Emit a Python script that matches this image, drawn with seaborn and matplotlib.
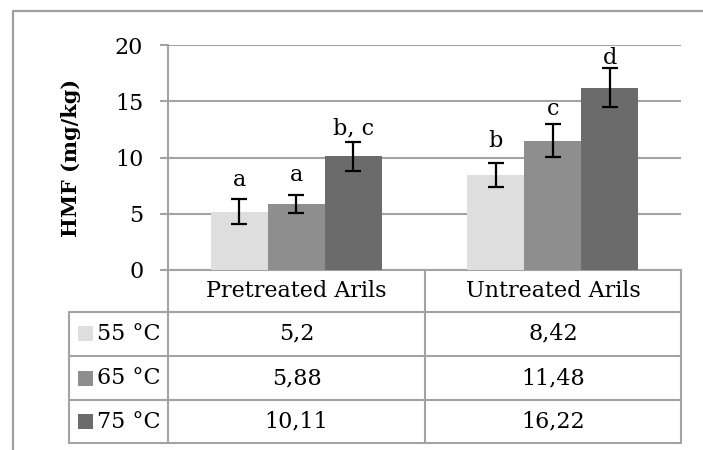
import numpy as np
import pandas as pd
import matplotlib
matplotlib.use("Agg")
import matplotlib.pyplot as plt
from matplotlib.patches import Rectangle
import seaborn as sns

# data
groups = ["Pretreated Arils", "Untreated Arils"]
temps = ["55 °C", "65 °C", "75 °C"]
hmf_pre = [5.2, 5.88, 10.11]
hmf_unt = [8.42, 11.48, 16.22]
err_pre = [1.1, 0.8, 1.3]
err_unt = [1.08, 1.46, 1.7]
letters_pre = ["a", "a", "b, c"]
letters_unt = ["b", "c", "d"]
letter_y_pre = [7.5, 7.9, 12.05]
letter_y_unt = [10.95, 13.8, 18.35]

colors = ["#DEDEDE", "#8E8E8E", "#6B6B6B"]
line_grey = "#A3A3A3"

rows = []
for g, vals, errs, lets, ly in [(groups[0], hmf_pre, err_pre, letters_pre, letter_y_pre),
                                (groups[1], hmf_unt, err_unt, letters_unt, letter_y_unt)]:
    for t, v, e, l, y in zip(temps, vals, errs, lets, ly):
        rows.append({"group": g, "temp": t, "hmf": v, "err": e, "letter": l, "ly": y})
df = pd.DataFrame(rows)

sns.set_style("white")
plt.rcParams["font.family"] = ["DejaVu Serif"]
plt.rcParams["text.color"] = "black"
plt.rcParams["axes.labelcolor"] = "black"
FS = 16

W, H = 703, 450
fig = plt.figure(figsize=(W / 100, H / 100), dpi=100)

# plot area in pixel coords: x 168..681, y 45..270
x0, x1, y0, y1 = 168, 681, 45, 270
ax = fig.add_axes([x0 / W, 1 - y1 / H, (x1 - x0) / W, (y1 - y0) / H])

sns.barplot(data=df, x="group", y="hmf", hue="temp", hue_order=temps, order=groups,
            palette=colors, width=0.667, errorbar=None, legend=False,
            linewidth=0, ax=ax, zorder=3)

# error bars and letters on top of each bar
bar_conts = list(ax.containers)
for i, cont in enumerate(bar_conts):
    for j, bar in enumerate(cont):
        rec = df[(df["temp"] == temps[i]) & (df["group"] == groups[j])].iloc[0]
        cx = bar.get_x() + bar.get_width() / 2
        ax.errorbar(cx, bar.get_height(), yerr=rec["err"], fmt="none", ecolor="black",
                    elinewidth=1.6, capsize=5.8, capthick=1.6, zorder=4)
        ax.text(cx, rec["ly"], rec["letter"], ha="center", va="baseline", fontsize=FS)

ax.set_xlim(-0.5, 1.5)
ax.set_ylim(0, 20)
ax.set_yticks([0, 5, 10, 15, 20])
ax.set_xticks([])
ax.set_xlabel("")
ax.yaxis.grid(True, color=line_grey, lw=1.5, zorder=0)
ax.set_axisbelow(True)
for s in ["top", "right"]:
    ax.spines[s].set_visible(False)
for s in ["left", "bottom"]:
    ax.spines[s].set_color(line_grey)
    ax.spines[s].set_linewidth(1.5)
ax.tick_params(axis="y", length=5.8, width=1.5, color=line_grey, labelcolor="black",
               pad=12, labelsize=FS, left=True)
ax.set_ylabel("HMF (mg/kg)", fontsize=15, fontweight="bold", va="center")
ax.yaxis.set_label_coords((71 - x0) / (x1 - x0), 0.5)

# overlay in pixel coordinates for the data table and outer border
ov = fig.add_axes([0, 0, 1, 1], zorder=-1)
ov.set_xlim(0, W)
ov.set_ylim(H, 0)
ov.axis("off")
ov.plot([13, 13, W], [H, 10.5, 10.5], color="#9E9E9E", lw=1.6, solid_capstyle="butt")

ov2 = fig.add_axes([0, 0, 1, 1])
ov2.set_xlim(0, W)
ov2.set_ylim(H, 0)
ov2.axis("off")

tl, cm, tr = 69, 425, 681
row_y = [270, 311.7, 356, 400, 443.3]
lw = 1.5
# vertical lines
ov2.plot([tl, tl], [row_y[1], row_y[-1]], color=line_grey, lw=lw)
for xv in [x0, cm, tr]:
    ov2.plot([xv, xv], [row_y[0], row_y[-1]], color=line_grey, lw=lw)
# horizontal lines
for yv in row_y[1:]:
    ov2.plot([tl, tr], [yv, yv], color=line_grey, lw=lw)

col_cx = [(x0 + cm) / 2, (cm + tr) / 2]
hy = (row_y[0] + row_y[1]) / 2
for g, cx in zip(groups, col_cx):
    ov2.text(cx, hy, g, ha="center", va="center", fontsize=FS)

for k, t in enumerate(temps):
    ry = (row_y[k + 1] + row_y[k + 2]) / 2
    ov2.add_patch(Rectangle((78, ry - 7.5), 15, 15, color=colors[k], lw=0))
    ov2.text(97, ry, t, ha="left", va="center", fontsize=FS)
    for cx, vals in zip(col_cx, [hmf_pre, hmf_unt]):
        ov2.text(cx, ry, f"{vals[k]:g}".replace(".", ","), ha="center", va="center", fontsize=FS)

fig.savefig("out.png", dpi=100)
